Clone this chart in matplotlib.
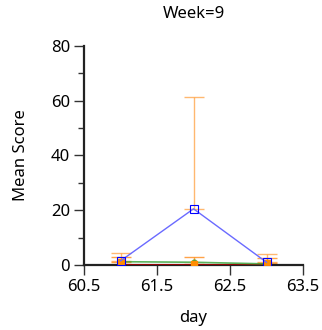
import matplotlib.pyplot as plt
from matplotlib.ticker import MultipleLocator

plt.rcParams['font.family'] = ['Noto Sans', 'DejaVu Sans']

# data
days = [61, 62, 63]
blue_mean = [1.5, 20.5, 1.0]
blue_err = [3.0, 41.0, 3.0]
orange_mean = [1.2, 0.4, 0.6]
orange_err = [1.6, 2.6, 1.8]
green_mean = [1.2, 1.0, 0.4]
green_err = [0.5, 0.5, 0.5]
red_mean = [0.0, 0.0, 0.0]
red_err = [0.4, 0.4, 0.3]

fig = plt.figure(figsize=(3.22, 3.30), dpi=100)
ax = fig.add_axes([0.261, 0.197, 0.68, 0.664])

# error bars (upper only)
ax.errorbar(days, blue_mean, yerr=[[0, 0, 0], blue_err], fmt='none',
            ecolor='#ffa040', elinewidth=1, capsize=7, alpha=0.75, zorder=2)
ax.errorbar(days, orange_mean, yerr=[[0, 0, 0], orange_err], fmt='none',
            ecolor='#ff8c1a', elinewidth=1, capsize=7, alpha=0.8, zorder=2)

ax.plot(days, red_mean, color='#aa0000', lw=1.2, marker='o', ms=4,
        mfc='none', mec='#ff5050', zorder=3)
ax.errorbar(days, red_mean, yerr=[red_err, [0, 0, 0]], fmt='none',
            ecolor='#aa0000', elinewidth=1, zorder=3)
ax.plot(days, green_mean, color='#33a033', lw=1.2, marker='o', ms=3.5,
        mfc='#33a033', mec='#33a033', alpha=0.8, zorder=3)
ax.plot(days, orange_mean, color='#ff8c00', lw=0, marker='s', ms=4.5,
        mfc='#ff8c00', mec='#ff8c00', zorder=4)
ax.plot(days, blue_mean, color='#6a6aff', lw=1, marker='s', ms=6,
        mfc='none', mec='#0000ff', mew=0.8, zorder=5)

ax.set_xlim(60.5, 63.5)
ax.set_ylim(0, 80)
ax.set_xticks([60.5, 61.5, 62.5, 63.5])
ax.set_yticks([0, 20, 40, 60, 80])
ax.yaxis.set_minor_locator(MultipleLocator(10))
ax.tick_params(axis='both', which='major', direction='out', length=7,
               width=1, color='#333333', labelsize=12, pad=3)
ax.tick_params(axis='y', which='minor', direction='out', length=4,
               width=1, color='#333333')
ax.spines['top'].set_visible(False)
ax.spines['right'].set_visible(False)
ax.spines['left'].set_linewidth(1.6)
ax.spines['bottom'].set_linewidth(1.6)
ax.spines['left'].set_color('#222222')
ax.spines['bottom'].set_color('#222222')
ax.patch.set_alpha(0)

ax.set_title("Week=9", fontsize=12, pad=20)
ax.set_xlabel("day", fontsize=12, labelpad=11)
ax.set_ylabel("Mean Score", fontsize=12, labelpad=16)

plt.savefig("out.png", dpi=100)
